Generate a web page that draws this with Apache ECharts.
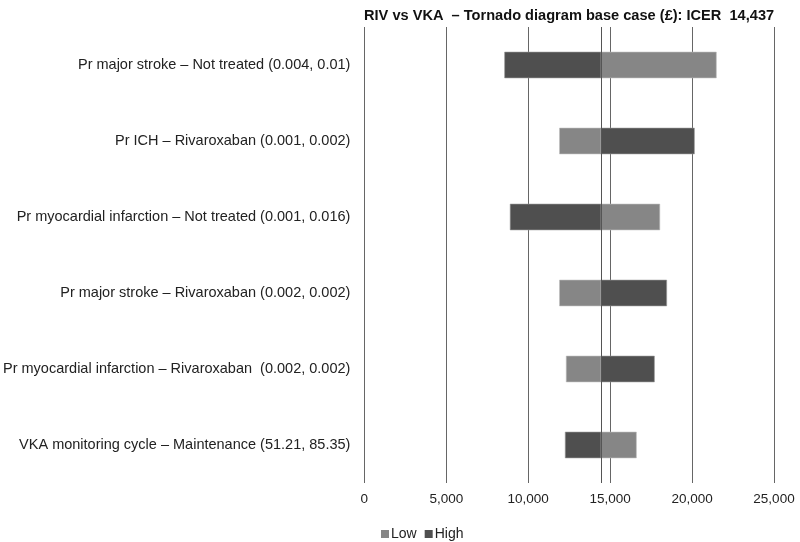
<!DOCTYPE html>
<html><head><meta charset="utf-8">
<script src="https://cdn.jsdelivr.net/npm/echarts@6/dist/echarts.min.js"></script>
<style>html,body{margin:0;padding:0;background:#fff}#c{width:800px;height:542px}</style>
</head><body><div id="c"></div>
<script>
var titleText = 'RIV vs VKA  \u2013 Tornado diagram base case (\u00a3): ICER  14,437';
var baseICER = 14437;
var categories = [
  'Pr major stroke \u2013 Not treated (0.004, 0.01)',
  'Pr ICH \u2013 Rivaroxaban (0.001, 0.002)',
  'Pr myocardial infarction \u2013 Not treated (0.001, 0.016)',
  'Pr major stroke \u2013 Rivaroxaban (0.002, 0.002)',
  'Pr myocardial infarction \u2013 Rivaroxaban  (0.002, 0.002)',
  'VKA monitoring cycle \u2013 Maintenance (51.21, 85.35)'
];
var lowValues  = [21480, 11910, 18030, 11910, 12320, 16600];
var highValues = [8560, 20140, 8900, 18450, 17700, 12260];
var xTicks = [0, 5000, 10000, 15000, 20000, 25000];

var chart = echarts.init(document.getElementById('c'), null, {renderer: 'canvas'});
var FONT = 'Liberation Sans, Arial, sans-serif';

function makeRender(values) {
  return function (params, api) {
    var idx = api.value(0);
    var v = api.value(1);
    var p0 = api.coord([baseICER, idx]);
    var p1 = api.coord([v, idx]);
    var h = api.size([0, 1])[1] * 0.34;
    var x = Math.min(p0[0], p1[0]);
    var w = Math.abs(p1[0] - p0[0]);
    return {
      type: 'rect',
      shape: {x: x, y: p0[1] - h / 2, width: w, height: h},
      style: api.style()
    };
  };
}
function toData(arr) { return arr.map(function (v, i) { return [i, v]; }); }

chart.setOption({
  animation: false,
  backgroundColor: '#fff',
  title: {
    text: titleText, left: 359, top: 3,
    textStyle: {fontFamily: FONT, fontSize: 14.6, fontWeight: 'bold', color: '#111'}
  },
  legend: {
    data: ['Low', 'High'], left: 376, top: 522,
    icon: 'rect', itemWidth: 8, itemHeight: 8, itemGap: 8,
    itemStyle: {borderWidth: 0},
    textStyle: {fontFamily: FONT, fontSize: 14, color: '#222', padding: [0,0,0,-3]}
  },
  grid: {left: 364, right: 26, top: 27, bottom: 59, containLabel: false},
  xAxis: {
    type: 'value', min: 0, max: 25000, interval: 5000,
    axisLine: {show: false}, axisTick: {show: false},
    axisLabel: {fontFamily: FONT, fontSize: 13.5, color: '#222', margin: 9,
      formatter: function (v) { return v.toLocaleString('en-US'); }},
    splitLine: {show: true, lineStyle: {color: '#666', width: 1}}
  },
  yAxis: {
    type: 'category', data: categories, inverse: true,
    axisLine: {show: false}, axisTick: {show: false},
    axisLabel: {fontFamily: FONT, fontSize: 14.5, color: '#222', margin: 14}
  },
  series: [
    {
      name: 'Low', type: 'custom', renderItem: makeRender(lowValues),
      encode: {x: 1, y: 0}, data: toData(lowValues),
      itemStyle: {color: '#868686', borderColor: '#bdbdbd', borderWidth: 0.6},
      markLine: {
        silent: true, symbol: 'none', label: {show: false},
        lineStyle: {color: '#555', width: 1, type: 'solid'},
        data: [{xAxis: baseICER}]
      }
    },
    {
      name: 'High', type: 'custom', renderItem: makeRender(highValues),
      encode: {x: 1, y: 0}, data: toData(highValues),
      itemStyle: {color: '#4f4f4f', borderColor: '#999', borderWidth: 0.6}
    }
  ]
});
</script></body></html>
